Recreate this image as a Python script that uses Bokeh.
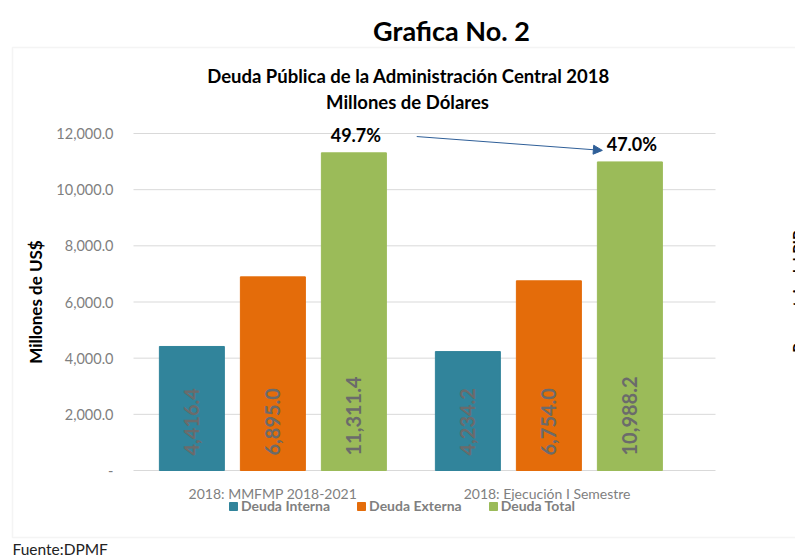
import numpy as np
from bokeh.plotting import figure
from bokeh.models import (Range1d, FixedTicker, NumeralTickFormatter, Label, BoxAnnotation,
                          Legend, LegendItem, ColumnDataSource, Arrow, NormalHead)
from bokeh.transform import dodge
from bokeh.embed import file_html
from bokeh.resources import INLINE
from bokeh.core.properties import value

# ---- data ----
categories = ["2018: MMFMP 2018-2021", "2018: Ejecución  I Semestre"]
series_names = ["Deuda Interna", "Deuda Externa", "Deuda Total"]
deuda_interna = [4416.4, 4234.2]
deuda_externa = [6895.0, 6754.0]
deuda_total = [11311.4, 10988.2]
pct_pib = [49.7, 47.0]
y_ticks = [0, 2000, 4000, 6000, 8000, 10000, 12000]
colors = ["#31849B", "#E46C0A", "#9BBB59"]

FONT = "Lato"

# ---- layout geometry (pixels) ----
W, H = 795, 560
PLOT_L, PLOT_R = 133, 715          # plot-area left/right (px)
PLOT_B, PLOT_T = 470, 133          # y of value 0 and of value 12000 (px)
PX_PER_CAT = 276.0
X0 = -0.005                        # data x at plot-area left
px_per_val = (PLOT_B - PLOT_T) / float(y_ticks[-1])

x_start = X0 - PLOT_L / PX_PER_CAT
x_end = X0 + (W - PLOT_L) / PX_PER_CAT
x_plot_end = X0 + (PLOT_R - PLOT_L) / PX_PER_CAT
y_start = -(H - PLOT_B) / px_per_val
y_end = PLOT_B / px_per_val

xpos = [i + 0.5 for i in range(len(categories))]
offsets = [-0.2935, 0.0, 0.2935]
bar_w = 0.2355

src = ColumnDataSource(dict(
    x=xpos,
    interna=deuda_interna, externa=deuda_externa, total=deuda_total,
    l_interna=[f"{v:,.1f}" for v in deuda_interna],
    l_externa=[f"{v:,.1f}" for v in deuda_externa],
    l_total=[f"{v:,.1f}" for v in deuda_total],
    pct=[f"{v:.1f}%" for v in pct_pib],
))
grid_src = ColumnDataSource(dict(y=y_ticks, x0=[X0] * len(y_ticks), x1=[x_plot_end] * len(y_ticks)))

p = figure(width=W, height=H, x_range=Range1d(x_start, x_end), y_range=Range1d(y_start, y_end),
           output_backend="svg", toolbar_location=None,
           min_border=0, min_border_left=0, min_border_right=0, min_border_top=0, min_border_bottom=0)
p.title.visible = False
p.outline_line_color = None
p.background_fill_color = "white"
p.border_fill_color = "white"
p.xgrid.grid_line_color = None
p.ygrid.grid_line_color = None

# y axis (drawn at plot-area left)
p.yaxis.fixed_location = X0
p.yaxis.bounds = (y_ticks[0], y_ticks[-1])
p.yaxis.ticker = FixedTicker(ticks=y_ticks)
p.yaxis.formatter = NumeralTickFormatter(format="0,0.0")
p.yaxis.major_label_overrides = {0: "-"}
p.yaxis.axis_line_color = None
p.yaxis.major_tick_line_color = None
p.yaxis.minor_tick_line_color = None
p.yaxis.major_tick_out = 0
p.yaxis.major_tick_in = 0
p.yaxis.major_label_standoff = 20
p.yaxis.major_label_text_font = FONT
p.yaxis.major_label_text_font_size = "14.5px"
p.yaxis.major_label_text_color = "#7F7F7F"
p.yaxis.axis_label = "Millones de US$"
p.yaxis.axis_label_text_font = FONT
p.yaxis.axis_label_text_font_size = "17px"
p.yaxis.axis_label_text_font_style = "bold"
p.yaxis.axis_label_text_color = "#000000"
p.yaxis.axis_label_standoff = 7

# x axis (drawn at value 0)
p.xaxis.fixed_location = 0
p.xaxis.ticker = FixedTicker(ticks=xpos)
p.xaxis.major_label_overrides = {x: c for x, c in zip(xpos, categories)}
p.xaxis.axis_line_color = None
p.xaxis.major_tick_line_color = None
p.xaxis.minor_tick_line_color = None
p.xaxis.major_tick_out = 0
p.xaxis.major_tick_in = 0
p.xaxis.major_label_standoff = 14
p.xaxis.major_label_text_font = FONT
p.xaxis.major_label_text_font_size = "14px"
p.xaxis.major_label_text_color = "#7F7F7F"

# horizontal gridlines at the y ticks
p.segment(x0="x0", x1="x1", y0="y", y1="y", source=grid_src, line_color="#D9D9D9", line_width=1)

# bars + value labels
renderers = []
for name, col, lab_col, off, c in zip(series_names, ["interna", "externa", "total"],
                                      ["l_interna", "l_externa", "l_total"], offsets, colors):
    r = p.vbar(x=dodge("x", off), top=col, width=bar_w, source=src,
               fill_color=c, line_color=c)
    renderers.append(r)
    p.text(x=dodge("x", off), y=0, text=lab_col, source=src, angle=np.pi / 2,
           text_align="left", text_baseline="middle", y_offset=-15,
           text_font=value(FONT), text_font_size="20px", text_color="#6B6B6B",
           text_font_style="bold")

# percent labels above total bars
p.text(x=dodge("x", offsets[2]), y="total", text="pct", source=src,
       text_align="center", text_baseline="middle", y_offset=-18, x_offset=2,
       text_font=value(FONT), text_font_size="18px", text_font_style="bold",
       text_color="#000000")

# arrow between the two totals
arr_x0 = xpos[0] + offsets[2] + bar_w / 2 + 0.11
arr_x1 = xpos[1] + offsets[2] - bar_w / 2 + 0.018
p.add_layout(Arrow(end=NormalHead(size=9, fill_color="#2F5F98", line_color="#2F5F98"),
                   x_start=arr_x0, y_start=deuda_total[0] + 580,
                   x_end=arr_x1, y_end=deuda_total[1] + 410,
                   line_color="#2F5F98", line_width=1))

# legend
legend = Legend(items=[LegendItem(label=n, renderers=[r]) for n, r in zip(series_names, renderers)],
                location=(228, H - 514), orientation="horizontal",
                glyph_width=10, glyph_height=10, label_standoff=3, spacing=26,
                padding=0, margin=0, border_line_color=None, background_fill_alpha=0,
                label_text_font=FONT, label_text_font_size="14px", label_text_font_style="bold",
                label_text_color="#7F7F7F", label_height=12)
p.add_layout(legend)

# outer chart box
p.add_layout(BoxAnnotation(left=12, right=W + 10, top=H - 47, bottom=H - 537,
                           left_units="screen", right_units="screen",
                           top_units="screen", bottom_units="screen",
                           fill_alpha=0, line_color="#D9D9D9", line_width=1.5, level="underlay"))


def lab(text, x, y, size, bold=True, align="center", color="#000000", angle=0.0):
    p.add_layout(Label(x=x, y=H - y, x_units="screen", y_units="screen", text=text,
                       text_align=align, text_baseline="middle", angle=angle,
                       text_font=FONT, text_font_size=size,
                       text_font_style="bold" if bold else "normal", text_color=color))


lab("Grafica No. 2", 451, 30, "27px")
lab("Deuda Pública de la Administración Central 2018", 408, 75, "18.5px")
lab("Millones de Dólares", 407, 101, "18.5px")
lab("Fuente:DPMF", 12, 548, "15.5px", bold=False, align="left", color="#222222")
lab("Porcentaje del PIB", 797, 291, "15px", angle=np.pi / 2)

open("out.html", "w").write(file_html(p, INLINE))
